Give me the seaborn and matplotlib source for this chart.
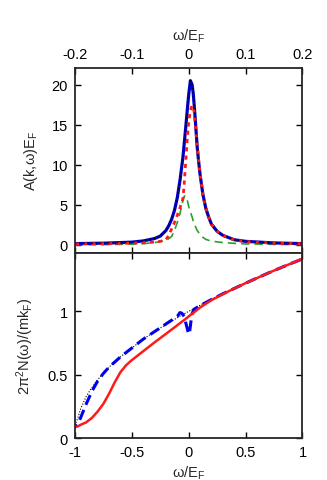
import numpy as np
import pandas as pd
import matplotlib
matplotlib.use("Agg")
import matplotlib.pyplot as plt
import seaborn as sns

# top panel: spectral function A(k,w)E_F
w_top = [-0.2, -0.15, -0.1, -0.08, -0.06, -0.05, -0.04, -0.035, -0.03, -0.025, -0.02,
         -0.015, -0.01, -0.0075, -0.005, -0.0025, 0.0, 0.003, 0.006, 0.008, 0.01, 0.0125,
         0.015, 0.0175, 0.02, 0.025, 0.03, 0.035, 0.04, 0.05, 0.06, 0.08, 0.1, 0.15, 0.2]
a_total = [0.17, 0.22, 0.35, 0.5, 0.8, 1.1, 1.8, 2.4, 3.2, 4.3, 5.9,
           8.2, 11.0, 12.9, 14.8, 16.8, 18.7, 20.5, 20.0, 18.9, 17.2, 14.7,
           12.2, 10.4, 8.8, 6.3, 4.6, 3.5, 2.6, 1.7, 1.2, 0.65, 0.45, 0.25, 0.17]
a_free = list(a_total)
a_red = [0.12, 0.15, 0.22, 0.28, 0.36, 0.45, 0.65, 1.2, 2.0, 2.8, 3.7,
         4.7, 5.8, 8.0, 10.6, 13.2, 15.3, 16.8, 17.4, 17.2, 16.4, 14.5,
         12.3, 10.5, 8.9, 6.3, 4.6, 3.5, 2.6, 1.7, 1.2, 0.62, 0.42, 0.22, 0.15]
a_green = [0.02, 0.04, 0.1, 0.15, 0.3, 0.42, 0.6, 0.78, 1.05, 1.8, 2.8,
           4.0, 5.6, 6.1, 6.1, 5.6, 4.8, 4.1, 3.5, 3.0, 2.6, 2.2,
           1.8, 1.55, 1.3, 0.95, 0.7, 0.58, 0.5, 0.38, 0.3, 0.2, 0.13, 0.07, 0.04]

# bottom panel: density of states 2pi^2 N(w)/(m k_F)
w_bot = [-1.0, -0.97, -0.95, -0.9, -0.85, -0.8, -0.75, -0.7, -0.65, -0.6, -0.55, -0.5,
         -0.4, -0.3, -0.2, -0.1, -0.077, -0.06, -0.04, -0.02, 0.0, 0.01, 0.02, 0.03, 0.045,
         0.1, 0.2, 0.3, 0.4, 0.5, 0.6, 0.7, 0.8, 0.9, 1.0]
n_free = [0.10, 0.17, 0.23, 0.33, 0.40, 0.46, 0.51, 0.56, 0.60, 0.64, 0.675, 0.71,
          0.78, 0.84, 0.895, 0.95, 0.962, 0.97, 0.98, 0.99, 1.0, 1.005, 1.01, 1.015, 1.022,
          1.048, 1.095, 1.14, 1.183, 1.225, 1.265, 1.304, 1.342, 1.378, 1.415]
n_blue = [0.09, 0.12, 0.16, 0.27, 0.37, 0.45, 0.51, 0.56, 0.60, 0.64, 0.675, 0.71,
          0.78, 0.84, 0.90, 0.96, 0.99, 0.985, 0.96, 0.89, 0.82, 0.85, 0.92, 0.98, 1.015,
          1.045, 1.093, 1.138, 1.18, 1.222, 1.262, 1.302, 1.34, 1.377, 1.413]
n_red = [0.085, 0.095, 0.105, 0.125, 0.16, 0.21, 0.27, 0.35, 0.44, 0.52, 0.575, 0.615,
         0.685, 0.755, 0.822, 0.89, 0.906, 0.918, 0.931, 0.945, 0.96, 0.967, 0.974, 0.98, 0.99,
         1.03, 1.088, 1.135, 1.18, 1.222, 1.262, 1.302, 1.34, 1.377, 1.415]

df_top = pd.DataFrame({"w": w_top, "total": a_total, "free": a_free,
                       "red": a_red, "green": a_green})
df_bot = pd.DataFrame({"w": w_bot, "free": n_free, "blue": n_blue, "red": n_red})

sns.set_style("ticks")
plt.rcParams["font.family"] = ["Liberation Sans", "DejaVu Sans"]
plt.rcParams["mathtext.default"] = "regular"
plt.rcParams["font.size"] = 10.5

fig = plt.figure(figsize=(3.27, 4.81), dpi=100)
ax1 = fig.add_axes([0.229, 0.472, 0.696, 0.385])
ax2 = fig.add_axes([0.229, 0.087, 0.696, 0.385])

# top panel
sns.lineplot(data=df_top, x="w", y="green", ax=ax1, color="#2ca02c",
             linestyle=(0, (5, 3)), linewidth=1.2)
sns.lineplot(data=df_top, x="w", y="total", ax=ax1, color="#0000cc", linewidth=2.3)
sns.lineplot(data=df_top, x="w", y="red", ax=ax1, color="#ff1a1a",
             linestyle=(0, (1.5, 1.5)), linewidth=2.0)
sns.lineplot(data=df_top, x="w", y="free", ax=ax1, color="black",
             linestyle=(0, (1, 2)), linewidth=1.0)
ax1.set_xlim(-0.2, 0.2)
ax1.set_ylim(-1, 22.1)
ax1.set_xticks([-0.2, -0.1, 0, 0.1, 0.2])
ax1.set_xticklabels(["-0.2", "-0.1", "0", "0.1", "0.2"])
ax1.set_yticks([0, 5, 10, 15, 20])
ax1.xaxis.tick_top()
ax1.xaxis.set_label_position("top")
ax1.tick_params(axis="x", which="both", top=True, bottom=True, labeltop=True, labelbottom=False)
ax1.set_xlabel("ω/E$_F$", labelpad=5)
ax1.set_ylabel("A(k,ω)E$_F$", labelpad=8)

# bottom panel
sns.lineplot(data=df_bot, x="w", y="free", ax=ax2, color="black",
             linestyle=(0, (1, 1.5)), linewidth=0.8)
sns.lineplot(data=df_bot, x="w", y="blue", ax=ax2, color="#0000ee",
             linestyle=(2.5, (3.5, 1.8)), linewidth=2.2)
sns.lineplot(data=df_bot, x="w", y="red", ax=ax2, color="#ff1a1a", linewidth=1.8)
ax2.set_xlim(-1, 1)
ax2.set_ylim(0, 1.46)
ax2.set_xticks([-1, -0.5, 0, 0.5, 1])
ax2.set_xticklabels(["-1", "-0.5", "0", "0.5", "1"])
ax2.set_yticks([0, 0.5, 1])
ax2.set_yticklabels(["0", "0.5", "1"])
ax2.set_xlabel("ω/E$_F$", labelpad=3)
ax2.set_ylabel("2π$^2$N(ω)/(mk$_F$)", labelpad=8)

for ax in (ax1, ax2):
    ax.tick_params(direction="in", length=4, width=1, top=True, right=True,
                   labelsize=10.5, pad=5, colors="black")
    for s in ax.spines.values():
        s.set_linewidth(1.3)
        s.set_visible(True)

fig.savefig("out.png", dpi=100)
